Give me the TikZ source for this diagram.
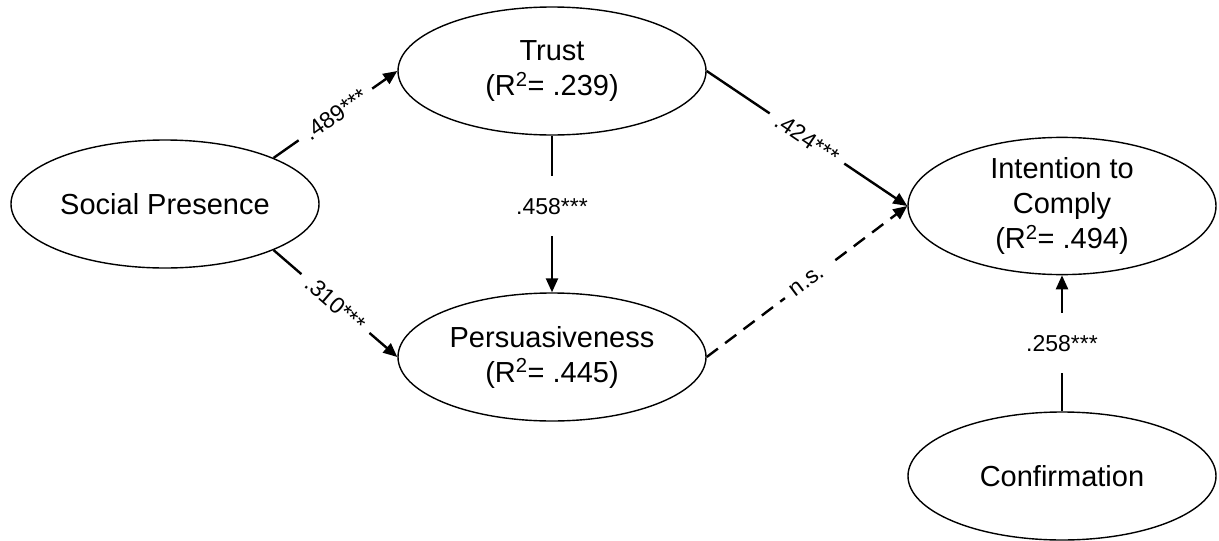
\documentclass[tikz,border=0pt]{standalone}
\usepackage{fontspec}
\setmainfont{Liberation Sans}
\usetikzlibrary{arrows.meta,shapes.geometric}
\begin{document}
\begin{tikzpicture}[x=1pt,y=-1pt,
  latent/.style={ellipse,draw,line width=1.4pt,minimum width=308pt,minimum height=128pt,inner sep=0pt,align=center,font=\fontsize{29}{35}\selectfont},
  pathline/.style={line width=2.4pt,-{Triangle[length=14pt,width=12pt]}},
  coef/.style={fill=white,font=\fontsize{23}{27}\selectfont,inner xsep=9pt,inner ysep=2pt},
  vcoef/.style={fill=white,font=\fontsize{23}{27}\selectfont,inner xsep=2pt,inner ysep=22pt}]
\useasboundingbox (0,0) rectangle (1219,541);
\node[latent] (sp) at (165,204) {Social Presence};
\node[latent] (tr) at (552,71) {Trust\\(R\textsuperscript{2}= .239)};
\node[latent] (pe) at (552,357) {Persuasiveness\\(R\textsuperscript{2}= .445)};
\node[latent] (ic) at (1062,206) {Intention to\\Comply\\(R\textsuperscript{2}= .494)};
\node[latent] (cf) at (1062,476) {Confirmation};
\draw[pathline] (sp.23) -- node[coef,sloped] (l1) {.489***} (tr.west);
\draw[pathline] (sp.-23) -- node[coef,sloped] (l2) {.310***} (pe.west);
\draw[pathline] (tr.south) -- node[vcoef,pos=0.45] (l3) {.458***} (pe.north);
\draw[pathline] (tr.east) -- node[coef,sloped] (l4) {.424***} (ic.west);
\draw[pathline,dash pattern=on 14pt off 9pt] (pe.east) -- node[coef,sloped] (l5) {n.s.} (ic.west);
\draw[pathline] (cf.north) -- node[vcoef] (l6) {.258***} (ic.south);
\end{tikzpicture}
\end{document}
